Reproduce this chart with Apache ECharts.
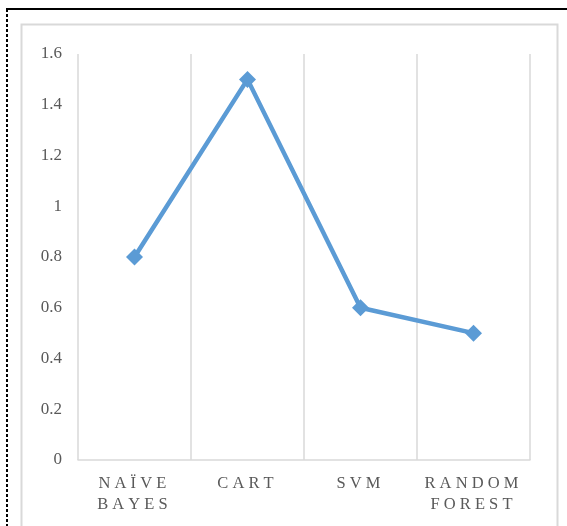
<!DOCTYPE html>
<html>
<head>
<meta charset="utf-8">
<script src="https://cdn.jsdelivr.net/npm/echarts@6/dist/echarts.min.js"></script>
<style>
  html, body { margin: 0; padding: 0; background: #ffffff; }
  #chart { width: 567px; height: 526px; }
</style>
</head>
<body>
<div id="chart"></div>
<script>
// Classifier names and their scores
const categories = ['NAÏVE\nBAYES', 'CART', 'SVM', 'RANDOM\nFOREST'];
const values = [0.8, 1.5, 0.6, 0.5];
const yTicks = { min: 0, max: 1.6, step: 0.2 };

// spread letters apart (tracking also trails the last letter)
function spaced(s) {
  return s.split('\n').map(line => line.split('').join(' ') + ' ').join('\n');
}

const chart = echarts.init(document.getElementById('chart'), null, { renderer: 'canvas' });

chart.setOption({
  backgroundColor: '#ffffff',
  animation: false,
  grid: { left: 78, right: 37, top: 54, bottom: 66, containLabel: false },
  graphic: [
    // light frame around the chart
    { type: 'rect', shape: { x: 21.5, y: 24.5, width: 536, height: 520 },
      style: { fill: 'none', stroke: '#d9d9d9', lineWidth: 2 }, silent: true },
    // solid top rule
    { type: 'line', shape: { x1: 6, y1: 9, x2: 567, y2: 9 },
      style: { stroke: '#000000', lineWidth: 2 }, silent: true },
    // dotted left rule
    { type: 'line', shape: { x1: 7, y1: 9, x2: 7, y2: 526 },
      style: { stroke: '#000000', lineWidth: 2, lineDash: [3, 2] }, silent: true }
  ],
  xAxis: {
    type: 'category',
    data: categories,
    boundaryGap: true,
    axisLine: { show: true, lineStyle: { color: '#d9d9d9', width: 1.5 } },
    axisTick: { show: false },
    splitLine: { show: true, lineStyle: { color: '#d9d9d9', width: 1.5 } },
    axisLabel: {
      formatter: v => spaced(v),
      color: '#595959',
      fontFamily: 'Liberation Serif',
      fontSize: 16.5,
      lineHeight: 21,
      margin: 13,
      interval: 0
    }
  },
  yAxis: {
    type: 'value',
    min: yTicks.min,
    max: yTicks.max,
    interval: yTicks.step,
    axisLine: { show: false },
    axisTick: { show: false },
    splitLine: { show: false },
    axisLabel: {
      color: '#595959',
      fontFamily: 'Liberation Serif',
      fontSize: 17,
      margin: 16
    }
  },
  series: [{
    type: 'line',
    data: values,
    symbol: 'diamond',
    symbolSize: 17,
    lineStyle: { color: '#5b9bd5', width: 4.5 },
    itemStyle: { color: '#5b9bd5' },
    label: { show: false }
  }]
});
</script>
</body>
</html>
